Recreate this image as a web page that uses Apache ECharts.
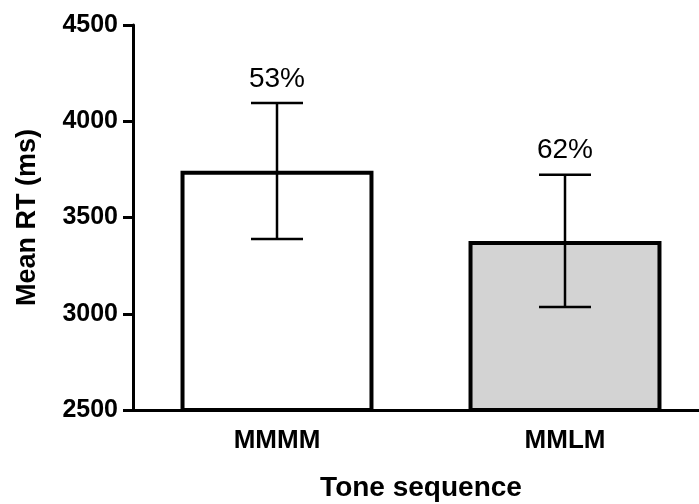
<!DOCTYPE html>
<html lang="en">
<head>
    <meta charset="UTF-8">
    <title>Mean RT by tone sequence</title>
    <style type="text/css">
        *{
            margin: 0;
            padding: 0;
        }
        #main{
            width: 699px;
            height: 504px;
            background: #fff;
        }
    </style>
</head>
<body>
    <div id="main"></div>
    <script src="https://cdn.jsdelivr.net/npm/echarts@6/dist/echarts.min.js"></script>
    <script type="text/javascript">
        var categories = ['MMMM', 'MMLM'];
        var means = [3743, 3378];
        var errLow = [3388, 3035];
        var errHigh = [4095, 3722];
        var pctLabels = ['53%', '62%'];
        var barColors = ['#ffffff', '#d3d3d3'];
        var yTicks = [2500, 3000, 3500, 4000, 4500];

        var font = '"Liberation Sans", Arial, sans-serif';

        var myChart = echarts.init(document.getElementById('main'));

        // 误差线数据: [类别索引, 下限, 上限, 标签]
        var errData = categories.map(function (c, i) {
            return [i, errLow[i], errHigh[i], pctLabels[i]];
        });

        var option = {
            animation: false,
            grid: {
                left: 133,
                width: 576,   // 右边超出画布, x轴线一直画到边缘
                top: 25,
                bottom: 94,
                containLabel: false,
                outerBoundsMode: 'none'
            },
            xAxis: {
                type: 'category',
                data: categories,
                name: 'Tone sequence',
                nameLocation: 'middle',
                nameGap: 64,
                nameTextStyle: {
                    color: '#000',
                    fontFamily: font,
                    fontWeight: 'bold',
                    fontSize: 28
                },
                axisLine: { lineStyle: { color: '#000', width: 3 } },
                axisTick: {
                    alignWithLabel: true,
                    length: 9,
                    lineStyle: { color: '#000', width: 3 }
                },
                axisLabel: {
                    color: '#000',
                    fontFamily: font,
                    fontWeight: 'bold',
                    fontSize: 26,
                    margin: 18
                }
            },
            yAxis: {
                type: 'value',
                min: yTicks[0],
                max: yTicks[yTicks.length - 1],
                interval: 500,
                name: 'Mean RT (ms)',
                nameLocation: 'middle',
                nameGap: 92,
                nameTextStyle: {
                    color: '#000',
                    fontFamily: font,
                    fontWeight: 'bold',
                    fontSize: 27
                },
                splitLine: { show: false },
                axisLine: { show: true, lineStyle: { color: '#000', width: 3 } },
                axisTick: { show: true, length: 10, lineStyle: { color: '#000', width: 3 } },
                axisLabel: {
                    color: '#000',
                    fontFamily: font,
                    fontWeight: 'bold',
                    fontSize: 25,
                    margin: 15,
                    formatter: function (v) { return String(v); }
                }
            },
            series: [
                {
                    type: 'bar',
                    barWidth: '67%',
                    data: means.map(function (v, i) {
                        return {
                            value: v,
                            itemStyle: {
                                color: barColors[i],
                                borderColor: '#000',
                                borderWidth: 4
                            }
                        };
                    }),
                    z: 2
                },
                {
                    type: 'custom',
                    data: errData,
                    z: 3,
                    renderItem: function (params, api) {
                        var x = api.value(0);
                        var lo = api.coord([x, api.value(1)]);
                        var hi = api.coord([x, api.value(2)]);
                        var half = 26;
                        var st = { stroke: '#000', lineWidth: 2.5 };
                        return {
                            type: 'group',
                            children: [
                                { type: 'line', shape: { x1: lo[0], y1: lo[1], x2: hi[0], y2: hi[1] }, style: st },
                                { type: 'line', shape: { x1: lo[0] - half, y1: lo[1], x2: lo[0] + half, y2: lo[1] }, style: st },
                                { type: 'line', shape: { x1: hi[0] - half, y1: hi[1], x2: hi[0] + half, y2: hi[1] }, style: st },
                                {
                                    type: 'text',
                                    x: hi[0],
                                    y: hi[1] - 10,
                                    style: {
                                        text: api.value(3),
                                        fill: '#000',
                                        font: '28px ' + font,
                                        textAlign: 'center',
                                        textVerticalAlign: 'bottom'
                                    }
                                }
                            ]
                        };
                    }
                }
            ]
        };

        myChart.setOption(option);
    </script>
</body>
</html>
